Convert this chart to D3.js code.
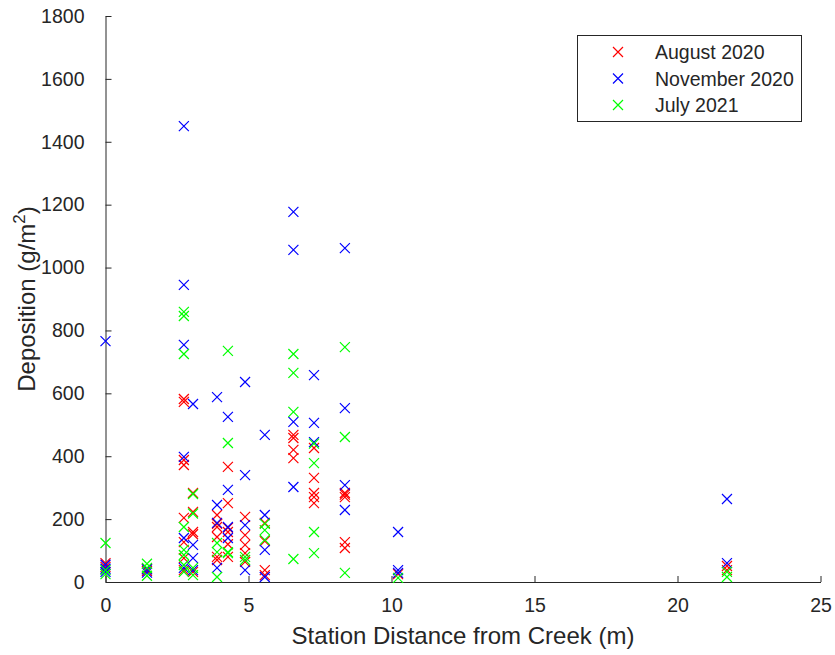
<!DOCTYPE html>
<html>
<head>
<meta charset="utf-8">
<script src="https://cdn.jsdelivr.net/npm/d3@7"></script>
<style>
  body { margin: 0; background: #fff; }
  svg { display: block; font-family: "Liberation Sans", Arial, sans-serif; }
</style>
</head>
<body>
<svg id="chart" width="835" height="655"></svg>
<script>
// ---- Data ----
const seriesNames = ["August 2020", "November 2020", "July 2021"];
const seriesColors = ["#ff0000", "#0000ff", "#00ff00"];

// August 2020
const augustX = [0,0, 1.45,1.45, 2.74,2.74,2.74,2.74,2.74,2.74,2.74,2.74, 3.06,3.06,3.06,3.06,3.06,
  3.9,3.9,3.9,3.9,3.9,3.9, 4.28,4.28,4.28,4.28,4.28,4.28, 4.88,4.88,4.88,4.88,4.88,
  5.57,5.57,5.57,5.57, 6.57,6.57,6.57,6.57, 7.29,7.29,7.29,7.29,7.29,
  8.37,8.37,8.37,8.37,8.37, 10.23, 21.73,21.73];
const augustY = [60,48, 35,42, 582,573,388,372,204,127,76,38, 283,223,159,152,32,
  213,185,175,143,80,70, 366,251,172,159,80,120, 207,149,118,92,64,
  188,130,38,22, 468,458,420,394, 426,331,283,270,251,
  283,278,270,127,108, 25, 51,38];

// November 2020
const novemberX = [0,0,0,0, 1.45,1.45, 2.74,2.74,2.74,2.74,2.74,2.74, 3.06,3.06,3.06,3.06,
  3.9,3.9,3.9,3.9, 4.28,4.28,4.28,4.28, 4.88,4.88,4.88,4.88,
  5.57,5.57,5.57,5.57, 6.57,6.57,6.57,6.57, 7.29,7.29,7.29,
  8.37,8.37,8.37,8.37, 10.23,10.23,10.23, 21.73,21.73];
const novemberY = [766,55,42,32, 40,30, 1450,945,754,398,140,45, 566,118,76,38,
  588,245,188,45, 525,293,175,140, 636,340,181,38,
  468,213,102,16, 1177,1056,509,302, 658,506,445,
  1062,553,308,229, 159,38,29, 264,60];

// July 2021
const julyX = [0,0,0, 1.45,1.45,1.45, 2.74,2.74,2.74,2.74,2.74,2.74,2.74,2.74, 3.06,3.06,3.06,3.06,
  3.9,3.9,3.9, 4.28,4.28,4.28,4.28, 4.88,4.88, 5.57,5.57,5.57,
  6.57,6.57,6.57,6.57, 7.29,7.29,7.29,7.29, 8.37,8.37,8.37, 10.23, 21.73,21.73];
const julyY = [124,38,25, 58,45,20, 859,846,725,175,102,86,54,32, 280,218,45,22,
  124,95,16, 735,442,95,92, 80,70, 185,165,134,
  725,665,541,73, 440,378,159,92, 747,461,29, 13, 32,16];

const xTicks = [0, 5, 10, 15, 20, 25];
const yTicks = [0, 200, 400, 600, 800, 1000, 1200, 1400, 1600, 1800];

// ---- Layout ----
const svg = d3.select("#chart");
const W = 835, H = 655;
const margin = { left: 105.5, right: W - 820.5, top: 16, bottom: H - 582 };
const axisColor = "#262626";
const tickFont = 19.5;

const x = d3.scaleLinear().domain([0, 25]).range([margin.left, W - margin.right]);
const y = d3.scaleLinear().domain([0, 1800]).range([H - margin.bottom, margin.top]);

// Axes
const xAxis = d3.axisBottom(x).tickValues(xTicks).tickFormat(d3.format("d"))
  .tickSizeInner(-6).tickSizeOuter(0).tickPadding(16);
const yAxis = d3.axisLeft(y).tickValues(yTicks).tickFormat(d3.format("d"))
  .tickSizeInner(-6).tickSizeOuter(0).tickPadding(21);

const gx = svg.append("g").attr("transform", `translate(0,${y(0)})`).call(xAxis);
const gy = svg.append("g").attr("transform", `translate(${x(0)},0)`).call(yAxis);
[gx, gy].forEach(g => {
  g.select(".domain").attr("stroke", axisColor).attr("stroke-width", 1);
  g.selectAll(".tick line").attr("stroke", axisColor);
  g.selectAll(".tick text").attr("fill", axisColor).attr("font-size", tickFont)
    .attr("font-family", "Liberation Sans, Arial, sans-serif");
});

// Axis labels
svg.append("text")
  .attr("x", x(12.5)).attr("y", 644)
  .attr("text-anchor", "middle").attr("fill", axisColor).attr("font-size", 24)
  .text("Station Distance from Creek (m)");

const yl = svg.append("text")
  .attr("transform", `translate(35,${(y(0) + y(1800)) / 2}) rotate(-90)`)
  .attr("text-anchor", "middle").attr("fill", axisColor).attr("font-size", 24);
yl.append("tspan").text("Deposition (g/m");
yl.append("tspan").attr("dy", -10).attr("font-size", 17).text("2");
yl.append("tspan").attr("dy", 10).text(")");

// Markers
const s = 5;
function xMarker(sel, color) {
  sel.append("path")
    .attr("d", `M${-s},${-s}L${s},${s}M${-s},${s}L${s},${-s}`)
    .attr("stroke", color).attr("stroke-width", 1.2).attr("fill", "none");
}

const series = [
  { xs: augustX, ys: augustY },
  { xs: novemberX, ys: novemberY },
  { xs: julyX, ys: julyY }
];
series.forEach((ser, i) => {
  const pts = ser.xs.map((xv, j) => [xv, ser.ys[j]]);
  svg.append("g").selectAll("g").data(pts).join("g")
    .attr("transform", d => `translate(${x(d[0])},${y(d[1])})`)
    .each(function () { xMarker(d3.select(this), seriesColors[i]); });
});

// Legend
const lg = svg.append("g");
lg.append("rect").attr("x", 577.5).attr("y", 35.5).attr("width", 224).attr("height", 86)
  .attr("fill", "#fff").attr("stroke", axisColor).attr("stroke-width", 1);
seriesNames.forEach((name, i) => {
  const yy = 52 + i * 26.5;
  const g = lg.append("g").attr("transform", `translate(618,${yy})`);
  xMarker(g, seriesColors[i]);
  lg.append("text").attr("x", 655).attr("y", yy + 7).attr("fill", axisColor)
    .attr("font-size", 19.5).text(name);
});
</script>
</body>
</html>
